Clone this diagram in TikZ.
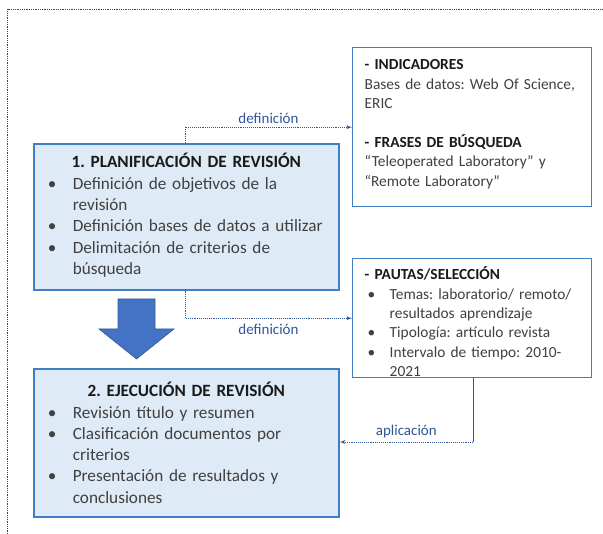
\documentclass[tikz,border=0pt]{standalone}
\usepackage{fontspec}
\setmainfont{Carlito}
\usetikzlibrary{arrows}

\definecolor{boxfill}{HTML}{DEEBF7}
\definecolor{boxline}{HTML}{3F7FC5}
\definecolor{bigarr}{HTML}{4472C4}
\definecolor{linkc}{HTML}{2F5597}
\definecolor{txtc}{HTML}{404040}
\definecolor{titc}{HTML}{1A1A1A}

\frenchspacing
\hyphenpenalty=10000
\exhyphenpenalty=10000

\newcommand{\ttl}[1]{{\centering\bfseries\color{titc}#1\par}}
\newcommand{\itm}[1]{\par\noindent\hangindent=35pt\hangafter=1\makebox[35pt][l]{\hspace{10pt}\textbullet}#1\par}
\newcommand{\sitm}[1]{\par\noindent\hangindent=25pt\hangafter=1\makebox[25pt][l]{\hspace{3pt}\textbullet}#1\par}

\begin{document}
\begin{tikzpicture}[x=1pt,y=-1pt,>=latex',
    bigbox/.style={draw=boxline,fill=boxfill,line width=1.6pt,anchor=north west,
        inner xsep=4pt,text width=297pt,align=left,text=txtc,
        font=\fontsize{17.2}{21.3}\selectfont},
    smallbox/.style={draw=boxline,fill=white,line width=1.4pt,anchor=north west,
        inner xsep=12pt,text width=215pt,minimum height=119pt,align=left,text=txtc,
        font=\fontsize{15.4}{19.4}\selectfont},
    link/.style={draw=linkc,densely dotted,line width=0.9pt},
    lbl/.style={text=linkc,font=\fontsize{15}{18}\selectfont}]

                \useasboundingbox (0,0) rectangle (603,534);

                \draw[linkc!80!black,densely dotted,line width=0.8pt] (7,534) -- (7,9) -- (603,9);

                \node[bigbox,minimum height=146pt] (plan) at (33,143) {\ttl{1. PLANIFICACIÓN DE REVISIÓN}
                    \itm{Definición de objetivos de la\newline revisión}
                    \itm{Definición bases de datos a utilizar}
                    \itm{Delimitación de criterios de\newline búsqueda}\vspace*{3pt}};

                \node[bigbox,minimum height=148pt] (exe) at (33,368) {\ttl{2. EJECUCIÓN DE REVISIÓN}
                    \itm{Revisión título y resumen}
                    \itm{Clasificación documentos por\newline criterios}
                    \itm{Presentación de resultados y\newline conclusiones}};

                \node[smallbox,minimum height=159pt] (ind) at (352,47) {{\color{titc}\bfseries - INDICADORES}\newline
                    Bases de datos: Web Of Science,\newline ERIC\newline\mbox{}\newline
                    {\color{titc}\bfseries - FRASES DE BÚSQUEDA}\newline
                    “Teleoperated Laboratory” y\newline “Remote Laboratory”\par\vspace*{6pt}};

                \node[smallbox] (pau) at (352,258) {{\color{titc}\bfseries - PAUTAS/SELECCIÓN}
                    \sitm{Temas: laboratorio/ remoto/\newline resultados aprendizaje}
                    \sitm{Tipología: artículo revista}
                    \sitm{Intervalo de tiempo: 2010-\newline 2021}\vspace*{-7pt}};

                % big arrow between the two phases
                \fill[bigarr,draw=bigarr!80!black,line width=0.6pt] (118,299) -- (155,299) -- (155,329) -- (174,329)
                    -- (136.5,359) -- (99,329) -- (118,329) -- cycle;

                \coordinate (c1) at (185,128);
                \coordinate (c3) at (473,442);

                \path[link,->] (plan.north -| c1) |- node[lbl,pos=0.75,above] {definición} (ind.west);
                \path[link,->] (plan.south -| c1) |- node[lbl,pos=0.75,below=2pt] {definición} (pau.west);
                \draw[linkc,line width=0.9pt] (pau.south -| c3) -- (c3);
                \path[link,->] (c3) -- node[lbl,above] {aplicación} (exe.east |- c3);

            \end{tikzpicture}
\end{document}
